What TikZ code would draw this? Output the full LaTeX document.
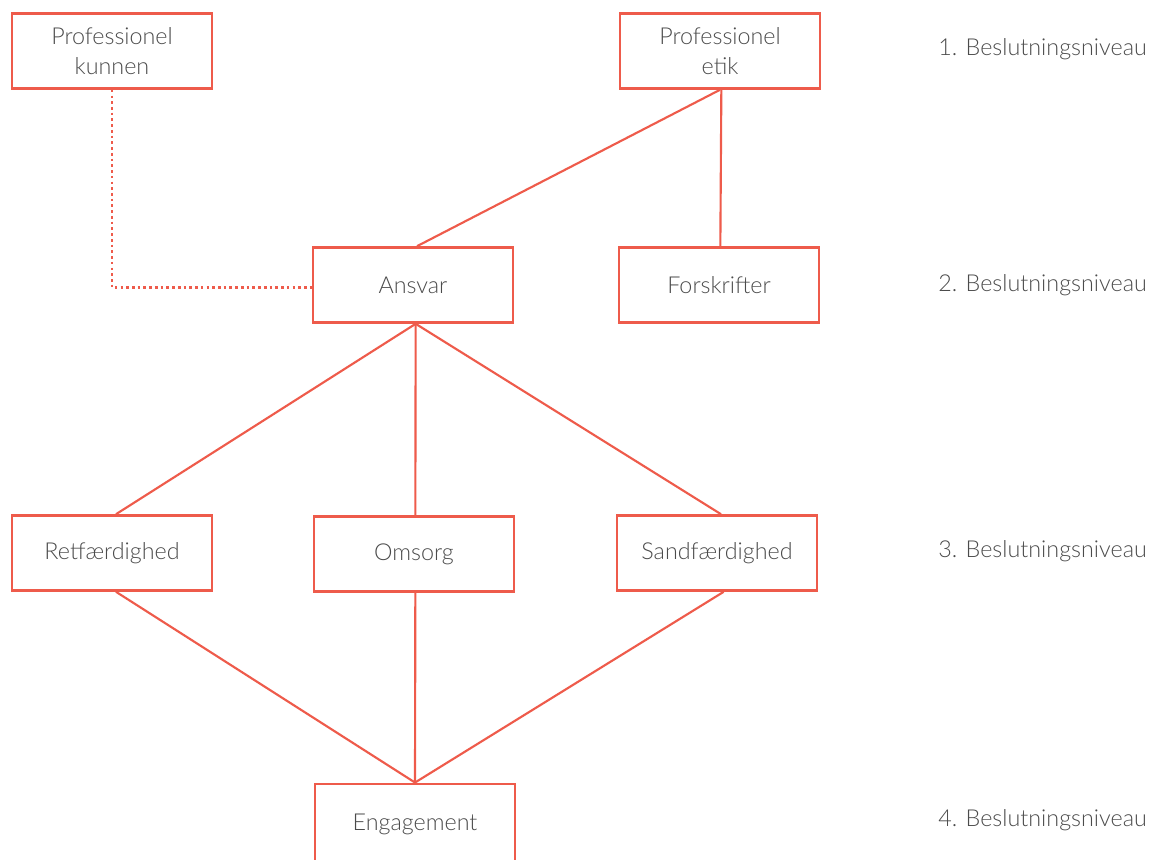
\documentclass[tikz,border=0pt]{standalone}
\usepackage{fontspec}
\setmainfont{Lato}[UprightFont=* Light]
\usetikzlibrary{positioning,calc}
\definecolor{boxred}{RGB}{238,91,75}
\definecolor{textgray}{RGB}{75,75,75}

\begin{document}
\begin{tikzpicture}[
      x=0.75pt, y=-0.75pt,
      box/.style={draw=boxred, line width=2.2pt, minimum width=150pt, minimum height=56pt,
        inner sep=0pt, align=center, text=textgray, font=\fontsize{17.5}{22.5}\selectfont},
      link/.style={draw=boxred, line width=1.6pt},
      dotlink/.style={draw=boxred, line width=2pt, dash pattern=on 2pt off 2.3pt},
      level/.style={anchor=east, inner sep=0pt, text=textgray, font=\fontsize{17.5}{22.5}\selectfont}
      ]

      % Ramme
      \path[use as bounding box] (0,0) rectangle (1151,859);
      \clip (0,0) rectangle (1151,859);

      % 1. niveau
      \node[box] (kunnen) at (112,51) {Professionel\\kunnen};
      \node[box] (etik) at (720,51) {Professionel\\etik};

      % 2. niveau
      \node[box] (ansvar) at (413,285) {Ansvar};
      \node[box] (forskrifter) at (719,285) {Forskrifter};

      % 3. niveau
      \node[box] (retfaerdighed) at (112,553) {Retf\ae rdighed};
      \node[box] (omsorg) at (414,554) {Omsorg};
      \node[box] (sandfaerdighed) at (717,553) {Sandf\ae rdighed};

      % 4. niveau (skaaret af forneden)
      \node[box, minimum height=60pt] (engagement) at (415,824) {Engagement};

      % Niveauer
      \node[level] (niv1) at (1147,49) {1. Beslutningsniveau};
      \node[level] (niv2) at (1147,285) {2. Beslutningsniveau};
      \node[level] (niv3) at (1147,551) {3. Beslutningsniveau};
      \node[level] (niv4) at (1147,820) {4. Beslutningsniveau};

      % Forbindelser
      \path[link] (etik.south) -- ([xshift=3pt]ansvar.north);
      \path[link] ([xshift=1pt]etik.south) -- ([xshift=1pt]forskrifter.north);
      \path[dotlink] (kunnen.south) |- ([yshift=-2pt]ansvar.west);

      \path[link] ([xshift=2pt]ansvar.south) -- ([xshift=3pt]retfaerdighed.north);
      \path[link] ([xshift=2pt]ansvar.south) -- ([xshift=1pt]omsorg.north);
      \path[link] ([xshift=2pt]ansvar.south) -- ([xshift=3pt]sandfaerdighed.north);

      \path[link] ([xshift=3pt]retfaerdighed.south) -- (engagement.north);
      \path[link] ([xshift=1pt]omsorg.south) -- (engagement.north);
      \path[link] ([xshift=5pt]sandfaerdighed.south) -- (engagement.north);
    \end{tikzpicture}
\end{document}
